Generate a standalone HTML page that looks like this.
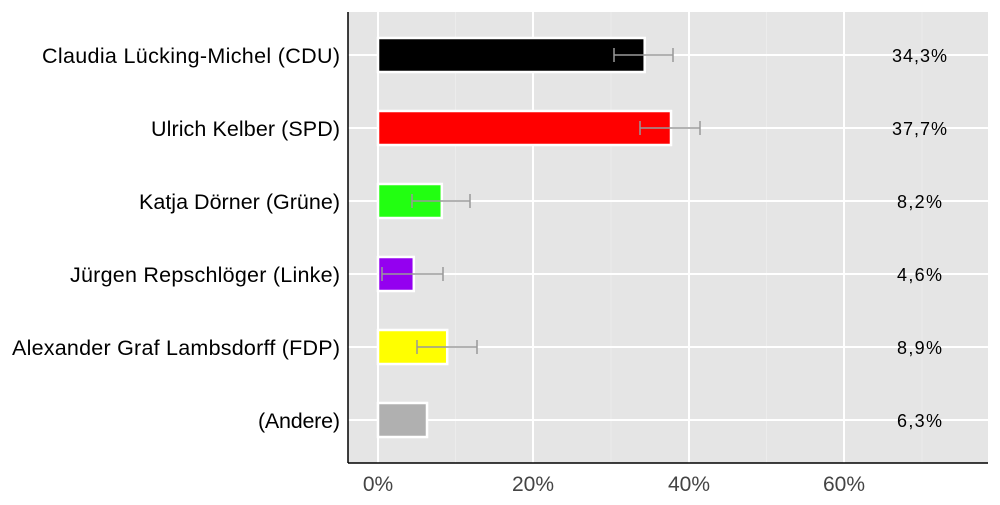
<!DOCTYPE html>
<html><head><meta charset="utf-8"><style>body{margin:0;background:#fff}</style></head><body>
<svg width="1000" height="500" xmlns="http://www.w3.org/2000/svg" font-family="Liberation Sans, sans-serif">
<rect x="348" y="12" width="640" height="451" fill="#e5e5e5"/>
<g stroke="#ececec" stroke-width="1">
<line x1="455.5" y1="12" x2="455.5" y2="463"/><line x1="611" y1="12" x2="611" y2="463"/><line x1="766.5" y1="12" x2="766.5" y2="463"/><line x1="922" y1="12" x2="922" y2="463"/>
</g>
<g stroke="#fff" stroke-width="2">
<line x1="378" y1="12" x2="378" y2="463"/><line x1="533" y1="12" x2="533" y2="463"/><line x1="689" y1="12" x2="689" y2="463"/><line x1="844" y1="12" x2="844" y2="463"/>
<line x1="348" y1="55" x2="988" y2="55"/><line x1="348" y1="128" x2="988" y2="128"/><line x1="348" y1="201" x2="988" y2="201"/><line x1="348" y1="274" x2="988" y2="274"/><line x1="348" y1="347" x2="988" y2="347"/><line x1="348" y1="420" x2="988" y2="420"/>
</g>
<g stroke="#fff" stroke-width="2.5">
<rect x="378" y="38" width="266.7" height="34" fill="#000"/>
<rect x="378" y="111" width="293" height="34" fill="#ff0000"/>
<rect x="378" y="184" width="63.8" height="34" fill="#22ff11"/>
<rect x="378" y="257" width="35.8" height="34" fill="#9400f0"/>
<rect x="378" y="330" width="69.2" height="34" fill="#ffff00"/>
<rect x="378" y="403" width="49" height="34" fill="#b0b0b0"/>
</g>
<g stroke="#999" stroke-width="1.5" fill="none">
<path d="M614 55H673M614 48V62M673 48V62"/>
<path d="M640 128H700M640 121V135M700 121V135"/>
<path d="M412 201H470M412 194V208M470 194V208"/>
<path d="M382 274H443M382 267V281M443 267V281"/>
<path d="M417 347H477M417 340V354M477 340V354"/>
</g>
<line x1="348" y1="12" x2="348" y2="463" stroke="#000" stroke-width="1.5"/>
<line x1="348" y1="463" x2="988" y2="463" stroke="#000" stroke-width="1.5"/>
<g font-size="18" fill="#000">
<text x="892" y="62" textLength="55">34,3%</text><text x="892" y="135" textLength="55">37,7%</text><text x="897" y="208" textLength="45">8,2%</text><text x="897" y="281" textLength="45">4,6%</text><text x="897" y="354" textLength="45">8,9%</text><text x="897" y="427" textLength="45">6,3%</text>
</g>
<g font-size="21.5" fill="#000">
<text x="42" y="63" textLength="298">Claudia Lücking-Michel (CDU)</text>
<text x="151" y="136" textLength="189">Ulrich Kelber (SPD)</text>
<text x="139" y="209" textLength="201">Katja Dörner (Grüne)</text>
<text x="70" y="282" textLength="270">Jürgen Repschlöger (Linke)</text>
<text x="12" y="355" textLength="328">Alexander Graf Lambsdorff (FDP)</text>
<text x="258" y="428" textLength="82">(Andere)</text>
</g>
<g font-size="21" text-anchor="middle" fill="#444">
<text x="378" y="491">0%</text><text x="533" y="491">20%</text><text x="689" y="491">40%</text><text x="844" y="491">60%</text>
</g>
</svg>
</body></html>
